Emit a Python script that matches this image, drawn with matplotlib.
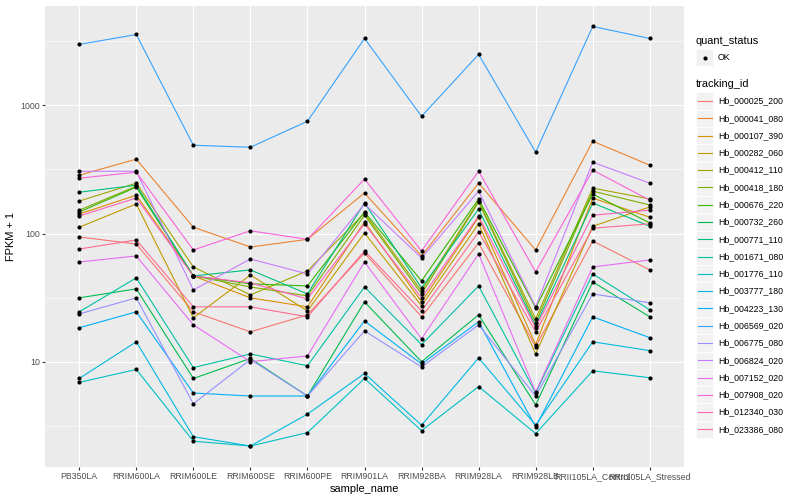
import numpy as np
import matplotlib
matplotlib.use("Agg")
import matplotlib.pyplot as plt
from matplotlib.patches import Rectangle
from matplotlib.lines import Line2D

plt.rcParams['font.family'] = ['Liberation Sans', 'DejaVu Sans']

# samples along the x axis
samples = ['PB350LA', 'RRIM600LA', 'RRIM600LE', 'RRIM600SE', 'RRIM600PE',
           'RRIM901LA', 'RRIM928BA', 'RRIM928LA', 'RRIM928LB',
           'RRII105LA_Control', 'RRII105LA_Stressed']

tracking_ids = ['Hb_000025_200', 'Hb_000041_080', 'Hb_000107_390', 'Hb_000282_060',
                'Hb_000412_110', 'Hb_000418_180', 'Hb_000676_220', 'Hb_000732_260',
                'Hb_000771_110', 'Hb_001671_080', 'Hb_001776_110', 'Hb_003777_180',
                'Hb_004223_130', 'Hb_006569_020', 'Hb_006775_080', 'Hb_006824_020',
                'Hb_007152_020', 'Hb_007908_020', 'Hb_012340_030', 'Hb_023386_080']

# FPKM + 1 per gene, in sample order
hb_000025_200 = [94, 82.8, 24.5, 17.1, 23.2, 70.5, 22.4, 84.4, 13.1, 87.4, 52.0]
hb_000041_080 = [285, 380, 112, 78.5, 90, 207, 66.8, 247, 74.4, 525, 341]
hb_000107_390 = [142, 199, 46.7, 31.5, 26.8, 123, 29.3, 134, 13.6, 189, 134]
hb_000282_060 = [112, 170, 22.0, 47.5, 24.9, 101, 27.3, 119, 11.5, 114, 161]
hb_000412_110 = [179, 247, 54.9, 33.2, 51.1, 144, 35.7, 179, 21.6, 226, 186]
hb_000418_180 = [152, 234, 46.7, 38.3, 32.6, 139, 33.8, 176, 20.1, 214, 167]
hb_000676_220 = [147, 230, 46.7, 40.5, 39.0, 147, 42.7, 186, 26.3, 203, 121]
hb_000732_260 = [31.5, 37.0, 7.4, 10.6, 5.4, 29.3, 10.0, 23.2, 4.6, 41.9, 22.4]
hb_000771_110 = [210, 238, 46.7, 52.0, 33.8, 173, 37.7, 155, 19.1, 173, 114]
hb_001671_080 = [24.5, 45.1, 9.0, 11.5, 9.3, 38.3, 13.6, 39.0, 5.7, 48.4, 25.4]
hb_001776_110 = [6.9, 8.7, 2.4, 2.2, 2.8, 7.4, 2.9, 6.4, 2.75, 8.5, 7.5]
hb_003777_180 = [7.4, 14.3, 2.6, 2.2, 3.9, 8.1, 3.2, 10.7, 3.2, 14.3, 12.2]
hb_004223_130 = [18.4, 24.5, 5.7, 5.4, 5.4, 20.8, 9.6, 20.5, 3.1, 22.4, 15.4]
hb_006569_020 = [2984, 3568, 488, 471, 751, 3322, 821, 2494, 431, 4120, 3322]
hb_006775_080 = [23.6, 31.5, 4.7, 10.4, 5.4, 17.4, 9.1, 19.4, 5.4, 33.8, 28.8]
hb_006824_020 = [306, 306, 36.3, 63.3, 48.4, 170, 64.5, 214, 26.8, 360, 247]
hb_007152_020 = [60.0, 66.8, 19.4, 10.0, 11.1, 60.0, 15.1, 69.3, 5.8, 54.9, 62.2]
hb_007908_020 = [270, 301, 74.4, 105, 90, 266, 73.1, 306, 50.2, 312, 182]
hb_012340_030 = [137, 189, 46.7, 41.2, 30.9, 119, 31.5, 137, 18.4, 139, 152]
hb_023386_080 = [75.7, 89, 26.8, 26.8, 22.4, 73.1, 24.9, 103, 17.1, 110, 119]

series = [hb_000025_200, hb_000041_080, hb_000107_390, hb_000282_060,
          hb_000412_110, hb_000418_180, hb_000676_220, hb_000732_260,
          hb_000771_110, hb_001671_080, hb_001776_110, hb_003777_180,
          hb_004223_130, hb_006569_020, hb_006775_080, hb_006824_020,
          hb_007152_020, hb_007908_020, hb_012340_030, hb_023386_080]

# ggplot hue palette, 20 levels
colors = ["#F8766D", "#EA8331", "#D89000", "#C09B00", "#A3A500", "#7CAE00",
          "#39B600", "#00BB4E", "#00BF7D", "#00C1A3", "#00BFC4", "#00BAE0",
          "#00B0F6", "#35A2FF", "#9590FF", "#C77CFF", "#E76BF3", "#FA62DB",
          "#FF62BC", "#FF6C91"]

W, H = 800, 500
fig = plt.figure(figsize=(W / 100, H / 100), dpi=100)

# panel in pixels
pl, pr, pt, pb = 45, 684, 5.5, 467
ax = fig.add_axes([pl / W, 1 - pb / H, (pr - pl) / W, (pb - pt) / H])
ax.set_facecolor('#EBEBEB')
for s in ax.spines.values():
    s.set_visible(False)

x = np.arange(len(samples))
for vals, c in zip(series, colors):
    ax.plot(x, vals, color=c, lw=0.8, zorder=2)
for vals in series:
    ax.plot(x, vals, 'o', color='black', ms=3.0, mew=0, zorder=3)

ax.set_yscale('log')
allv = np.log10(np.concatenate([np.asarray(v, float) for v in series]))
lo, hi = allv.min(), allv.max()
r = hi - lo
ax.set_ylim(10 ** (lo - 0.05 * r), 10 ** (hi + 0.05 * r))
ax.set_xlim(-0.6, len(samples) - 0.4)

ax.set_yticks([10, 100, 1000])
ax.set_yticklabels(['10', '100', '1000'])
ax.set_yticks([10 ** 0.5, 10 ** 1.5, 10 ** 2.5, 10 ** 3.5], minor=True)
ax.set_xticks(x)
ax.set_xticklabels(samples)
ax.tick_params(which='major', length=2.0, width=0.8, color='#333333',
               labelcolor='#4D4D4D', labelsize=6.3, pad=1.6)
ax.tick_params(which='minor', length=0)
ax.grid(which='major', color='white', lw=0.8, zorder=0)
ax.grid(which='minor', axis='y', color='white', lw=0.4, zorder=0)
ax.set_axisbelow(True)

ax.set_xlabel('sample_name', fontsize=7.9, labelpad=2.5)
ax.set_ylabel('FPKM + 1', fontsize=7.9, labelpad=3)


def fx(px):
    return px / W


def fy(py):
    return 1 - py / H


# legend: quant_status
lx = 696
key = 17.28
fig.text(fx(lx), fy(40.7), 'quant_status', fontsize=7.9, va='center', ha='left')
fig.patches.append(Rectangle((fx(lx), fy(49 + key)), key / W, key / H,
                             transform=fig.transFigure, fc='#F2F2F2', ec='white', lw=0.5))
fig.lines.append(Line2D([fx(lx + key / 2)], [fy(49 + key / 2)], marker='o', color='black',
                        ms=3.0, mew=0, transform=fig.transFigure))
fig.text(fx(lx + key + 4.5), fy(49 + key / 2), 'OK', fontsize=6.3, va='center', ha='left')

# legend: tracking_id
fig.text(fx(lx), fy(84.3), 'tracking_id', fontsize=7.9, va='center', ha='left')
top = 92.4
for i, (name, c) in enumerate(zip(tracking_ids, colors)):
    y0 = top + i * key
    fig.patches.append(Rectangle((fx(lx), fy(y0 + key)), key / W, key / H,
                                 transform=fig.transFigure, fc='#F2F2F2', ec='white', lw=0.5))
    fig.lines.append(Line2D([fx(lx + 1.7), fx(lx + key - 1.7)], [fy(y0 + key / 2)] * 2,
                            color=c, lw=0.8, transform=fig.transFigure))
    fig.text(fx(lx + key + 4.5), fy(y0 + key / 2), name, fontsize=6.3,
             va='center', ha='left')

fig.savefig('out.png', dpi=100)
